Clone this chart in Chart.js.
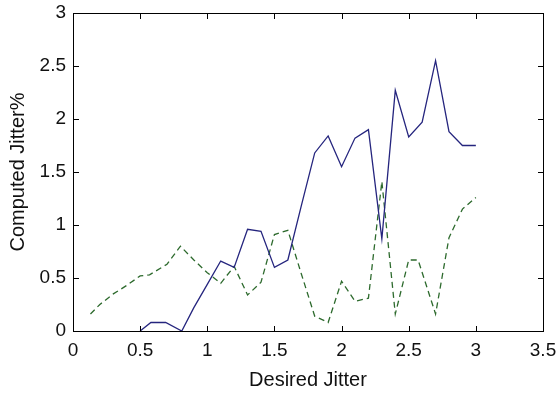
<!DOCTYPE html>
<html lang="en">
<head>
    <meta charset="UTF-8">
    <title>Jitter</title>
    <script src="https://cdn.jsdelivr.net/npm/chart.js"></script>
    <style>
        html, body { margin: 0; padding: 0; background: #fff; }
        #wrap { width: 557px; height: 395px; }
    </style>
</head>
<body>
    <div id="wrap"><canvas id="myChart"></canvas></div>

    <script>
        // desired jitter (x) and computed jitter % (y)
        const solidX = [0.5, 0.58, 0.69, 0.81, 0.9, 1.0, 1.1, 1.2, 1.3, 1.4, 1.5, 1.6, 1.7, 1.8, 1.9, 2.0, 2.1, 2.2, 2.3, 2.4, 2.5, 2.6, 2.7, 2.8, 2.9, 3.0];
        const solidY = [0, 0.08, 0.08, 0, 0.22, 0.44, 0.66, 0.6, 0.96, 0.94, 0.6, 0.67, 1.18, 1.68, 1.84, 1.55, 1.82, 1.9, 0.87, 2.27, 1.83, 1.97, 2.55, 1.88, 1.75, 1.75];

        const dashX = [0.13, 0.2, 0.3, 0.4, 0.5, 0.57, 0.7, 0.8, 0.9, 1.0, 1.1, 1.2, 1.3, 1.4, 1.5, 1.6, 1.7, 1.8, 1.9, 2.0, 2.1, 2.2, 2.3, 2.4, 2.5, 2.57, 2.7, 2.8, 2.9, 3.0];
        const dashY = [0.16, 0.25, 0.35, 0.43, 0.52, 0.53, 0.63, 0.8, 0.67, 0.55, 0.45, 0.61, 0.34, 0.46, 0.91, 0.95, 0.54, 0.14, 0.08, 0.47, 0.28, 0.31, 1.41, 0.16, 0.67, 0.67, 0.16, 0.88, 1.15, 1.26];

        const xTicks = [0, 0.5, 1, 1.5, 2, 2.5, 3, 3.5];
        const yTicks = [0, 0.5, 1, 1.5, 2, 2.5, 3];

        const toPts = (xs, ys) => xs.map((x, i) => ({ x: x, y: ys[i] }));

        const fam = '"Liberation Sans", Arial, sans-serif';

        const noPad = (s) => { s.paddingLeft = 0; s.paddingRight = 0; s.paddingTop = 0; s.paddingBottom = 0; };

        // matlab box and inward ticks, filled as thin strips
        const frame = {
            id: 'frame',
            afterDraw(chart) {
                const c = chart.ctx, a = chart.chartArea;
                const sx = chart.scales.x, sy = chart.scales.y;
                const l = Math.round(a.left), r = Math.round(a.right);
                const t = Math.round(a.top), b = Math.round(a.bottom);
                const L = 5;
                c.save();
                c.fillStyle = '#000';
                c.fillRect(l, t, r - l + 1, 1);
                c.fillRect(l, b, r - l + 1, 1);
                c.fillRect(l, t, 1, b - t + 1);
                c.fillRect(r, t, 1, b - t + 1);
                xTicks.forEach(v => {
                    const px = Math.round(sx.getPixelForValue(v));
                    c.fillRect(px, b - L, 1, L);
                    c.fillRect(px, t + 1, 1, L);
                });
                yTicks.forEach(v => {
                    const py = Math.round(sy.getPixelForValue(v));
                    c.fillRect(l + 1, py, L, 1);
                    c.fillRect(r - L, py, L, 1);
                });
                c.restore();
            }
        };

        new Chart(document.getElementById('myChart'), {
            type: 'line',
            data: {
                datasets: [
                    {
                        data: toPts(solidX, solidY),
                        borderColor: '#25257e',
                        borderWidth: 1.3,
                        pointRadius: 0,
                        tension: 0,
                        fill: false
                    },
                    {
                        data: toPts(dashX, dashY),
                        borderColor: '#2d6a2d',
                        borderWidth: 1.3,
                        borderDash: [6, 4],
                        pointRadius: 0,
                        tension: 0,
                        fill: false
                    }
                ]
            },
            options: {
                responsive: true,
                maintainAspectRatio: false,
                animation: false,
                layout: { padding: { top: 13, right: 14, left: 0, bottom: 0 } },
                plugins: { legend: { display: false }, tooltip: { enabled: false } },
                scales: {
                    x: {
                        type: 'linear',
                        min: 0, max: 3.5,
                        afterBuildTicks: (s) => { s.ticks = xTicks.map(v => ({ value: v })); },
                        afterFit: (s) => { s.height = 64; noPad(s); },
                        grid: { display: false, drawTicks: false },
                        border: { display: false },
                        ticks: { color: '#111', font: { family: fam, size: 19 }, padding: 8, maxRotation: 0,
                                 callback: (v) => String(v) },
                        title: { display: true, text: 'Desired Jitter', color: '#111',
                                 font: { family: fam, size: 20 }, padding: { top: 0, bottom: 3 } }
                    },
                    y: {
                        type: 'linear',
                        min: 0, max: 3,
                        afterBuildTicks: (s) => { s.ticks = yTicks.map(v => ({ value: v })); },
                        afterFit: (s) => { s.width = 73; noPad(s); },
                        grid: { display: false, drawTicks: false },
                        border: { display: false },
                        ticks: { color: '#111', font: { family: fam, size: 19 }, padding: 7,
                                 callback: (v) => String(v) },
                        title: { display: true, text: 'Computed Jitter%', color: '#111',
                                 font: { family: fam, size: 20 }, padding: { top: 6, bottom: 0 } }
                    }
                }
            },
            plugins: [frame]
        });
    </script>
</body>
</html>
